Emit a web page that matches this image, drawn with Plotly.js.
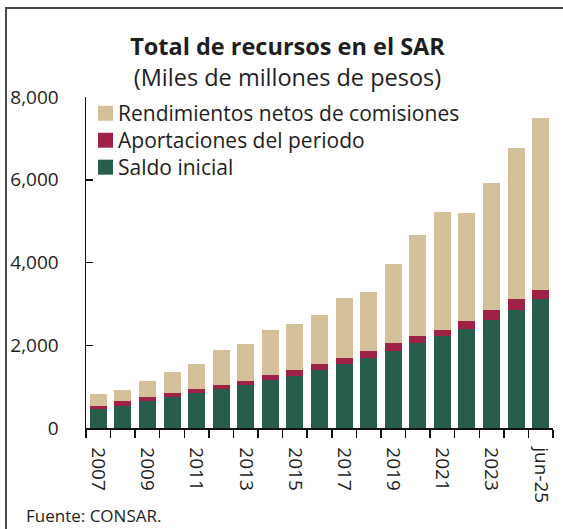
<!DOCTYPE html>
<html>
<head>
<meta charset="utf-8">
<script src="https://cdn.plot.ly/plotly-3.0.1.min.js"></script>
<style>
  html, body { margin: 0; padding: 0; background: #fff; }
  #wrap { position: relative; width: 563px; height: 529px; overflow: hidden; }
  #chart { position: absolute; left: 0; top: 0; width: 563px; height: 529px; }
  #frame { position: absolute; left: 5px; top: 7px; width: 700px; height: 700px;
           border-top: 2px solid #4a4a4a; border-left: 2px solid #4a4a4a; pointer-events: none; }
</style>
</head>
<body>
<div id="wrap">
  <div id="chart"></div>
  <div id="frame"></div>
</div>
<script>
// Data (miles de millones de pesos)
const categories = ['2007','2008','2009','2010','2011','2012','2013','2014','2015','2016',
                    '2017','2018','2019','2020','2021','2022','2023','2024','jun-25'];
const saldoInicial = [460, 540, 650, 750, 840, 950, 1035, 1150, 1260, 1410,
                      1550, 1690, 1870, 2050, 2220, 2390, 2600, 2850, 3125];
const aportaciones = [80, 115, 100, 85, 95, 100, 110, 120, 140, 130,
                      135, 170, 190, 175, 160, 195, 250, 265, 200];
const rendimientos = [285, 265, 385, 530, 600, 825, 875, 1090, 1115, 1190,
                      1455, 1425, 1910, 2450, 2835, 2605, 3060, 3655, 4165];
const tickLabels = ['2007','','2009','','2011','','2013','','2015','','2017','','2019','','2021','','2023','','jun-25'];
const yTicks = [0, 2000, 4000, 6000, 8000];

const seriesNames = ['Saldo inicial', 'Aportaciones del periodo', 'Rendimientos netos de comisiones'];
const seriesColors = ['#285C4D', '#9E2246', '#D4C19C'];
const seriesValues = [saldoInicial, aportaciones, rendimientos];

const FONT = '"Open Sans", "Noto Sans", sans-serif';
const INK = '#1e1e1e';

// plot area geometry in pixels (for placing legend/notes in paper coords)
const PL = 86, PW = 467, PB = 428.3, PH = 331.6;
const px = v => (v - PL) / PW;
const py = v => (PB - v) / PH;

const traces = seriesNames.map((n, i) => ({
  type: 'bar', name: n, x: categories, y: seriesValues[i],
  marker: { color: seriesColors[i], line: { width: 0 } }, showlegend: false
}));

// Custom legend (top to bottom: Rendimientos, Aportaciones, Saldo)
const legendRowsY = [113, 140, 167];
const legendOrder = [2, 1, 0];
const shapes = [];
const annotations = [];
legendOrder.forEach((si, r) => {
  const cy = legendRowsY[r];
  shapes.push({ type: 'rect', xref: 'paper', yref: 'paper',
    x0: px(98), x1: px(113), y0: py(cy + 7.5), y1: py(cy - 7.5),
    fillcolor: seriesColors[si], line: { width: 0 } });
  annotations.push({ text: seriesNames[si], xref: 'paper', yref: 'paper',
    x: px(116), y: py(cy), xanchor: 'left', yanchor: 'middle', showarrow: false,
    font: { family: FONT, size: 21, color: INK } });
});
annotations.push({ text: 'Fuente: CONSAR.', xref: 'paper', yref: 'paper',
  x: px(24), y: py(516), xanchor: 'left', yanchor: 'middle', showarrow: false,
  font: { family: FONT, size: 17, color: INK } });

const layout = {
  width: 563, height: 529,
  margin: { l: 86, r: 10, t: 97, b: 101, pad: 0 },
  paper_bgcolor: '#fff', plot_bgcolor: '#fff',
  barmode: 'stack', bargap: 0.31,
  font: { family: FONT, color: INK, size: 19 },
  showlegend: false,
  title: {
    text: '<b>Total de recursos en el SAR</b><br>(Miles de millones de pesos)',
    font: { family: FONT, size: 23.5, color: INK },
    x: 287.5 / 563, xanchor: 'center', xref: 'container',
    y: 1 - 55 / 529, yanchor: 'top', yref: 'container'
  },
  xaxis: {
    type: 'category',
    tickmode: 'array', tickvals: categories, ticktext: tickLabels,
    tickangle: 90, tickson: 'boundaries',
    ticks: 'outside', ticklen: 8, tickwidth: 1.5, tickcolor: '#111',
    showline: true, linecolor: '#111', linewidth: 1.5,
    showgrid: false, zeroline: false,
    tickfont: { family: FONT, size: 19, color: INK },
    ticklabelstandoff: 14,
    range: [-0.5, categories.length - 0.5]
  },
  yaxis: {
    range: [0, 8000],
    tickmode: 'array', tickvals: yTicks, tickformat: ',',
    ticks: 'inside', ticklen: 7, tickwidth: 1.5, tickcolor: '#111',
    showline: true, linecolor: '#111', linewidth: 1.5,
    showgrid: false, zeroline: false,
    tickfont: { family: FONT, size: 19, color: INK },
    ticklabelstandoff: 22
  },
  shapes: shapes,
  annotations: annotations
};

Plotly.newPlot('chart', traces, layout, { displayModeBar: false, staticPlot: true });
</script>
</body>
</html>
